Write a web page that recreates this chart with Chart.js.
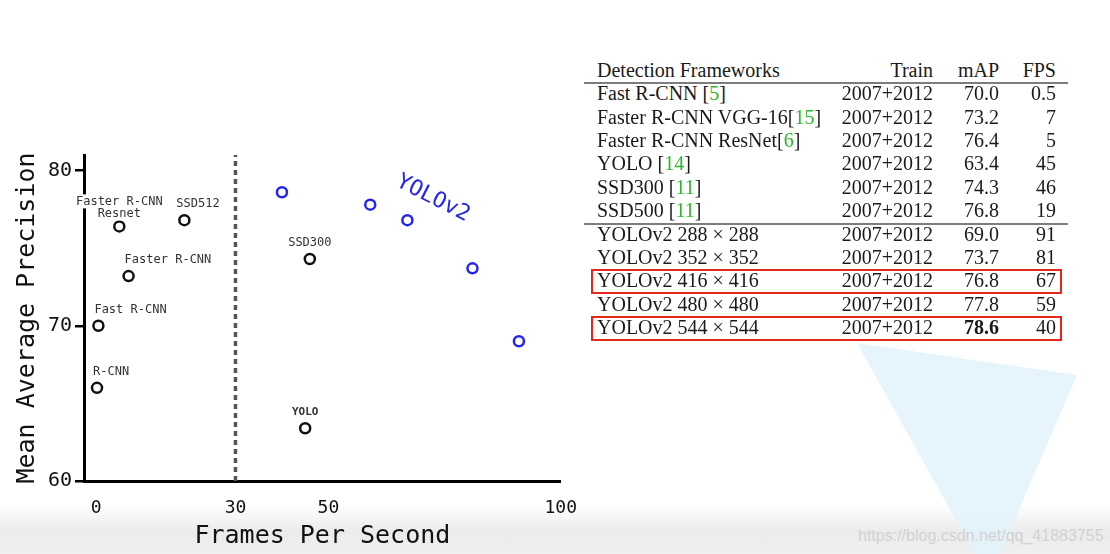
<!DOCTYPE html>
<html>
<head>
<meta charset="utf-8">
<script src="https://cdn.jsdelivr.net/npm/chart.js@4.4.1/dist/chart.umd.min.js"></script>
<style>
body { margin: 0; width: 1110px; height: 554px; overflow: hidden; background: #fff; position: relative; }
#band { position: absolute; left: 0; top: 505px; width: 1110px; height: 49px;
        background: linear-gradient(#fff 0%, #ebebeb 55%, #f0f0f0 100%); }
#tri { position: absolute; left: 850px; top: 340px; width: 240px; height: 240px; background: #e2f2fc;
       clip-path: polygon(7px 3px, 227px 35px, 139px 239px); opacity: 0.85; }
#mark { position: absolute; left: 858px; top: 527px; font: 16px 'Liberation Sans', Arial, sans-serif; color: #d2d2d2; }
#chartBox { position: absolute; left: 0; top: 0; width: 594px; height: 554px; }
.cell { position: absolute; font-family: 'Liberation Serif', 'Times New Roman', serif; font-size: 20px;
        line-height: 20px; color: #1a1a1a; white-space: pre; }
.num { width: 200px; text-align: right; }
.cite { color: #2cb82c; }
.rule { position: absolute; left: 584px; width: 484px; height: 2px; background: #7d7d7d; }
.box { position: absolute; left: 591px; width: 471px; height: 25px; border: 2.5px solid #e5261b; box-sizing: border-box; }
</style>
</head>
<body>
<div id="band"></div>
<div id="tri"></div>
<div id="mark">https://blog.csdn.net/qq_41883755</div>
<div id="chartBox"><canvas id="chart"></canvas></div>
<div id="table"></div>
<script>
// scatter: speed vs accuracy on VOC 2007
const otherNames = ['R-CNN', 'Fast R-CNN', 'Faster R-CNN', 'Faster R-CNN\nResnet', 'SSD512', 'SSD300', 'YOLO'];
const otherFps = [0.2, 0.5, 7, 5, 19, 46, 45];
const otherMap = [66.0, 70.0, 73.2, 76.4, 76.8, 74.3, 63.4];

const yolo2Fps = [91, 81, 67, 59, 40];
const yolo2Map = [69.0, 73.7, 76.8, 77.8, 78.6];

const xTicks = [0, 30, 50, 100];
const yTicks = [60, 70, 80];
const realTimeFps = 30;

// table on the right
const tableHead = ['Detection Frameworks', 'Train', 'mAP', 'FPS'];
const tableNames = ['Fast R-CNN ', 'Faster R-CNN VGG-16', 'Faster R-CNN ResNet', 'YOLO ', 'SSD300 ', 'SSD500 ',
                    'YOLOv2 288 × 288', 'YOLOv2 352 × 352', 'YOLOv2 416 × 416', 'YOLOv2 480 × 480', 'YOLOv2 544 × 544'];
const tableCites = ['5', '15', '6', '14', '11', '11', '', '', '', '', ''];
const tableTrain = ['2007+2012', '2007+2012', '2007+2012', '2007+2012', '2007+2012', '2007+2012',
                    '2007+2012', '2007+2012', '2007+2012', '2007+2012', '2007+2012'];
const tableMap = ['70.0', '73.2', '76.4', '63.4', '74.3', '76.8', '69.0', '73.7', '76.8', '77.8', '78.6'];
const tableFps = ['0.5', '7', '5', '45', '46', '19', '91', '81', '67', '59', '40'];
const highlightRows = [8, 10];

const blue = '#2424ec';

// label placement (pixels from the point)
const labelDx = [-4, -4, -4, 0, -8, 0, 0];
const labelAlign = ['left', 'left', 'left', 'center', 'left', 'center', 'center'];
const tagAt = { fps: 72.5, map: 78.2 };

const pointLabels = {
    id: 'pointLabels',
    afterDraw(chart) {
        const ctx = chart.ctx;
        const meta = chart.getDatasetMeta(1);
        ctx.save();
        ctx.textBaseline = 'middle';
        meta.data.forEach((pt, i) => {
            const lines = otherNames[i].split('\n');
            ctx.font = otherNames[i] === 'YOLO' ? 'bold 11px "DejaVu Sans Mono"' : '12px "DejaVu Sans Mono"';
            ctx.textAlign = labelAlign[i];
            const lift = lines.length > 1 ? 13 : 16;
            lines.forEach((line, k) => {
                const y = pt.y - lift - (lines.length - 1 - k) * 12;
                const x = pt.x + labelDx[i];
                const w = ctx.measureText(line).width;
                const left = labelAlign[i] === 'center' ? x - w / 2 : x;
                ctx.fillStyle = '#fff';
                ctx.fillRect(left - 1, y - 7, w + 2, 14);
                ctx.fillStyle = '#333';
                ctx.fillText(line, x, y);
            });
        });
        // YOLOv2 tag
        const xs = chart.scales.x, ys = chart.scales.y;
        ctx.translate(xs.getPixelForValue(tagAt.fps), ys.getPixelForValue(tagAt.map));
        ctx.rotate(27 * Math.PI / 180);
        ctx.font = '22px "DejaVu Sans Mono"';
        ctx.textAlign = 'center';
        ctx.fillStyle = blue;
        ctx.fillText('YOLOv2', 0, 0);
        ctx.restore();
    }
};

const monoFont = "'DejaVu Sans Mono', monospace";

new Chart(document.getElementById('chart'), {
    type: 'scatter',
    data: {
        datasets: [
            {
                type: 'line',
                data: [{ x: realTimeFps, y: 60 }, { x: realTimeFps, y: 81 }],
                borderColor: '#555',
                borderWidth: 3.5,
                borderDash: [5, 4],
                pointRadius: 0,
                order: 3
            },
            {
                data: otherFps.map((f, i) => ({ x: f, y: otherMap[i] })),
                pointRadius: 5,
                pointBorderWidth: 2.5,
                pointBorderColor: '#111',
                pointBackgroundColor: '#fff',
                order: 2
            },
            {
                data: yolo2Fps.map((f, i) => ({ x: f, y: yolo2Map[i] })),
                pointRadius: 5,
                pointBorderWidth: 2.5,
                pointBorderColor: blue,
                pointBackgroundColor: '#fff',
                order: 1
            }
        ]
    },
    options: {
        responsive: true,
        maintainAspectRatio: false,
        animation: false,
        layout: { padding: { top: 155, right: 25, left: 0, bottom: 0 } },
        plugins: { legend: { display: false }, tooltip: { enabled: false } },
        scales: {
            x: {
                type: 'linear',
                min: -2.6,
                max: 100,
                afterBuildTicks: s => { s.ticks = xTicks.map(v => ({ value: v })); },
                afterFit: s => { s.height = 73; },
                grid: { display: false, drawTicks: false },
                border: { display: true, color: '#000', width: 3 },
                ticks: { font: { family: monoFont, size: 18 }, color: '#111', padding: 17, maxRotation: 0, autoSkip: false },
                title: { display: true, text: 'Frames Per Second', color: '#111',
                         font: { family: monoFont, size: 25 }, padding: { top: 0, bottom: 3 } }
            },
            y: {
                min: 60,
                max: 81,
                afterBuildTicks: s => { s.ticks = yTicks.map(v => ({ value: v })); },
                afterFit: s => { s.width = 84; },
                grid: { drawOnChartArea: false, drawTicks: true, tickLength: 9, color: '#000', lineWidth: 2.5 },
                border: { display: true, color: '#000', width: 3 },
                ticks: { font: { family: monoFont, size: 20 }, color: '#111', padding: 3 },
                title: { display: true, text: 'Mean Average Precision', color: '#111',
                         font: { family: monoFont, size: 25 }, padding: { top: 12, bottom: 0 } }
            }
        }
    },
    plugins: [pointLabels]
});

// table
const table = document.getElementById('table');
const baseTop = 16.75; // baseline offset inside a 20px line box
function cell(text, x, baseline, right, bold) {
    const d = document.createElement('div');
    d.className = 'cell' + (right ? ' num' : '');
    d.style.left = (right ? x - 200 : x) + 'px';
    d.style.top = (baseline - baseTop) + 'px';
    if (bold) d.style.fontWeight = 'bold';
    d.textContent = text;
    table.appendChild(d);
    return d;
}
const colName = 597, colTrain = 933, colMap = 999, colFps = 1056;
const headBase = 77;
cell(tableHead[0], colName, headBase, false);
cell(tableHead[1], colTrain, headBase, true);
cell(tableHead[2], colMap, headBase, true);
cell(tableHead[3], colFps, headBase, true);

const bestMap = Math.max(...tableMap.map(parseFloat));
tableNames.forEach((name, i) => {
    const base = 100 + i * 23.4;
    const d = cell(name, colName, base, false);
    if (tableCites[i]) {
        d.appendChild(document.createTextNode('['));
        const s = document.createElement('span');
        s.className = 'cite';
        s.textContent = tableCites[i];
        d.appendChild(s);
        d.appendChild(document.createTextNode(']'));
    }
    cell(tableTrain[i], colTrain, base, true);
    cell(tableMap[i], colMap, base, true, parseFloat(tableMap[i]) === bestMap);
    cell(tableFps[i], colFps, base, true);
});

function rule(y) {
    const r = document.createElement('div');
    r.className = 'rule';
    r.style.top = y + 'px';
    table.appendChild(r);
}
rule(82);
rule(100 + 5 * 23.4 + 6);

highlightRows.forEach(i => {
    const b = document.createElement('div');
    b.className = 'box';
    b.style.top = (100 + i * 23.4 - 18.5) + 'px';
    table.appendChild(b);
});
</script>
</body>
</html>
